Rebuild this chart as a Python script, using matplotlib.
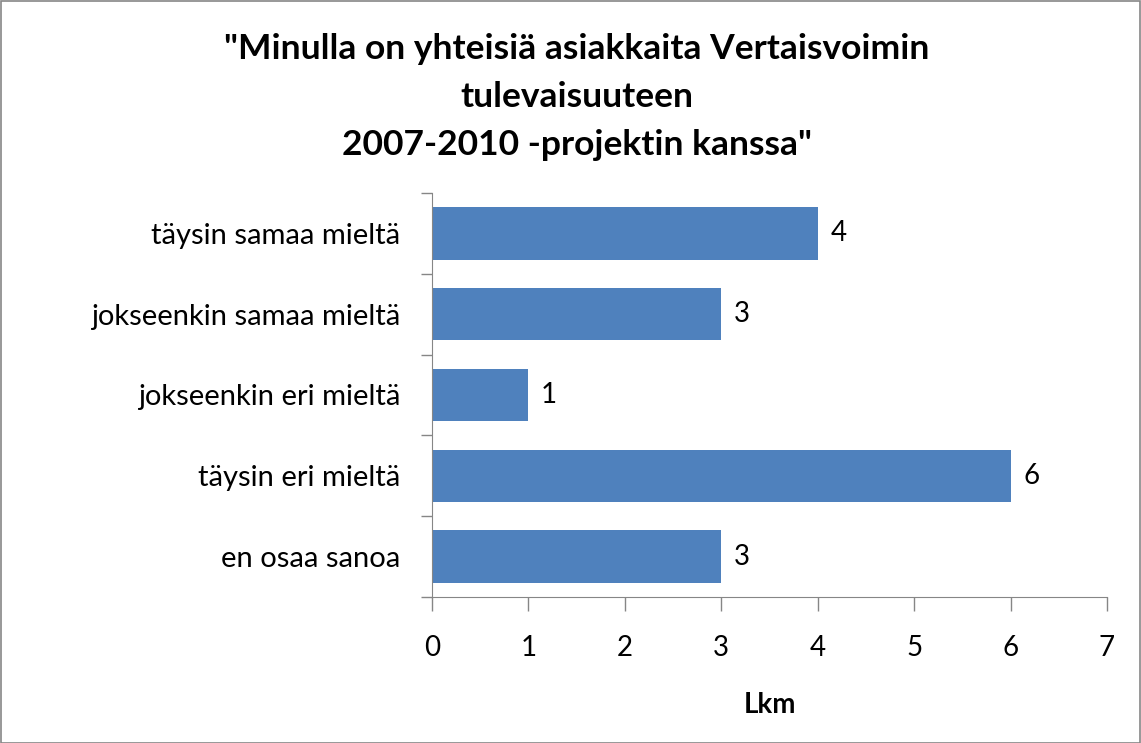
import matplotlib
matplotlib.use("Agg")
import matplotlib.pyplot as plt
from matplotlib.patches import Rectangle

categories = ["täysin samaa mieltä", "jokseenkin samaa mieltä", "jokseenkin eri mieltä",
              "täysin eri mieltä", "en osaa sanoa"]
values = [4, 3, 1, 6, 3]
xticks = [0, 1, 2, 3, 4, 5, 6, 7]
title = '"Minulla on yhteisiä asiakkaita Vertaisvoimin\ntulevaisuuteen\n2007-2010 -projektin kanssa"'
xlabel = "Lkm"

plt.rcParams['font.family'] = ['Lato', 'DejaVu Sans']

fig = plt.figure(figsize=(11.41, 7.43), dpi=100)
ax = fig.add_axes([432/1141, 1-597/743, (1107-432)/1141, (597-193)/743])

ypos = list(range(len(categories)))
ax.barh(ypos, values, height=0.65, color="#4F81BD", zorder=2)
ax.set_ylim(len(categories)-0.5, -0.5)
ax.set_xlim(0, 7)
ax.set_xticks(xticks)
ax.set_xticklabels([str(t) for t in xticks], fontsize=20)
ax.set_yticks(ypos)
ax.set_yticklabels(categories, fontsize=21)
ax.set_yticks([i - 0.5 for i in range(len(categories)+1)], minor=True)
ax.tick_params(axis='y', which='major', length=0, pad=23)
ax.tick_params(axis='y', which='minor', length=8, color="#868686", width=1)
ax.tick_params(axis='x', length=10, color="#868686", width=1, pad=17)

for s in ["top", "right"]:
    ax.spines[s].set_visible(False)
for s in ["left", "bottom"]:
    ax.spines[s].set_color("#868686")

for y, v in zip(ypos, values):
    ax.text(v + 0.13, y, str(v), va='center', ha='left', fontsize=20)

ax.set_xlabel(xlabel, fontsize=20, fontweight='bold', labelpad=23)

fig.text(577/1141, 1-97/743, title, ha='center', va='center', fontsize=25.5,
         fontweight='bold', linespacing=1.6)

fig.patches.append(Rectangle((0.5/1141, 0.5/743), 1-1.5/1141, 1-1.5/743, transform=fig.transFigure,
                             fill=False, edgecolor="#868686", linewidth=1.2))

fig.savefig("out.png", dpi=100)
